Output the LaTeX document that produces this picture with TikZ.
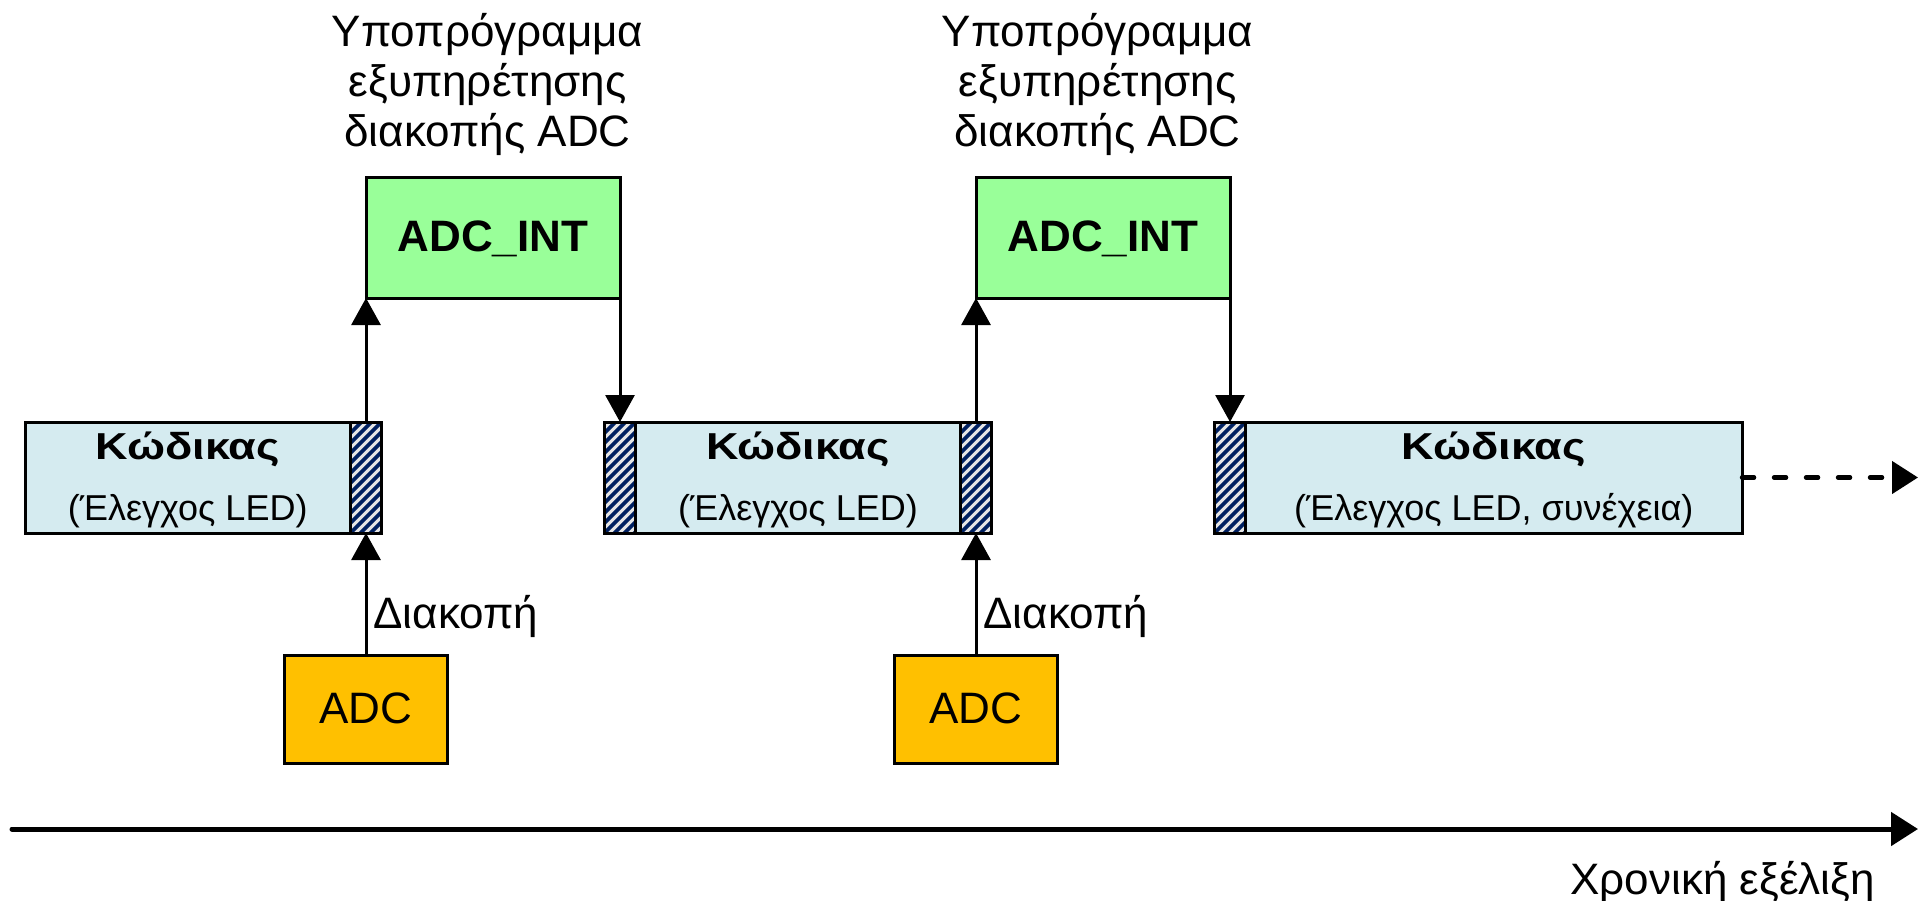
\documentclass[tikz,border=0pt]{standalone}
\usepackage{fontspec}
\setmainfont{Liberation Sans}
\newfontfamily\headfont{Liberation Sans}[FakeStretch=1.2]
\usetikzlibrary{arrows.meta}

\definecolor{codeblue}{HTML}{D5EBF0}
\definecolor{intgreen}{HTML}{99FF99}
\definecolor{adcorange}{HTML}{FFC000}
\definecolor{stripenavy}{HTML}{002060}
\definecolor{stripegray}{HTML}{E6E6E6}

\tikzset{
  box/.style={rectangle, draw=black, line width=3pt, inner sep=0pt, outer sep=0pt},
  codebox/.style={box, fill=codeblue, minimum height=111pt},
  hatchbox/.style={box, fill=stripegray, minimum width=31pt, minimum height=111pt,
    path picture={
      \foreach \k in {-5,...,13}{
        \draw[stripenavy, line width=3.8pt]
          ([yshift=\k*10pt]path picture bounding box.south west) -- ++(45pt,45pt);
      }}},
  intbox/.style={box, fill=intgreen, minimum width=254pt, minimum height=121pt,
    font=\bfseries\fontsize{44}{50}\selectfont, text height=31pt, text depth=3pt},
  adcbox/.style={box, fill=adcorange, minimum width=163pt, minimum height=108pt,
    font=\fontsize{44}{50}\selectfont, text height=31pt, text depth=3pt},
  headtext/.style={inner sep=0pt, anchor=base, font=\headfont\bfseries\fontsize{37.5}{44}\selectfont},
  subtext/.style={inner sep=0pt, anchor=base, font=\fontsize{36}{42}\selectfont},
  plaintext/.style={inner sep=0pt, anchor=base, font=\fontsize{44}{50}\selectfont},
  titletext/.style={inner sep=0pt, align=center, font=\fontsize{44}{50}\selectfont},
  flow/.style={line width=3pt, -{Triangle[length=27pt, width=29pt]}},
  goeson/.style={line width=4.5pt, line cap=round, dash pattern=on 12pt off 20pt,
    -{Triangle[length=26pt, width=32pt]}},
  axis/.style={line width=5pt, line cap=round, -{Triangle[length=27pt, width=33pt]}},
}

\begin{document}
\begin{tikzpicture}[x=1pt, y=-1pt]
  \useasboundingbox (0,0) rectangle (1918,900);

  % first slice of the main program
  \node[codebox, minimum width=325.5pt] (code1) at (187.75,477.5) {};
  \node[hatchbox] (hatch1r) at (366,477.5) {};
  \node[headtext] (code1a) at ([yshift=18pt]code1.center) {Κώδικας};
  \node[subtext] (code1b) at ([yshift=-43pt]code1.center) {(Έλεγχος LED)};

  % second slice
  \node[hatchbox] (hatch2l) at (620,477.5) {};
  \node[codebox, minimum width=325pt] (code2) at (798,477.5) {};
  \node[hatchbox] (hatch2r) at (976,477.5) {};
  \node[headtext] (code2a) at ([yshift=18pt]code2.center) {Κώδικας};
  \node[subtext] (code2b) at ([yshift=-43pt]code2.center) {(Έλεγχος LED)};

  % third slice
  \node[hatchbox] (hatch3l) at (1230,477.5) {};
  \node[codebox, minimum width=496.5pt] (code3) at (1493.75,477.5) {};
  \node[headtext] (code3a) at ([yshift=18pt]code3.center) {Κώδικας};
  \node[subtext] (code3b) at ([yshift=-43pt]code3.center) {(Έλεγχος LED, συνέχεια)};

  % interrupt service routines
  \node[intbox] (int1) at (493,237.5) {ADC\_INT};
  \node[intbox] (int2) at (1103,237.5) {ADC\_INT};
  \node[titletext] (title1) at (487.5,84) {Υποπρόγραμμα\\εξυπηρέτησης\\διακοπής ADC};
  \node[titletext] (title2) at (1097.5,84) {Υποπρόγραμμα\\εξυπηρέτησης\\διακοπής ADC};

  % interrupt sources
  \node[adcbox] (adc1) at (366,709) {ADC};
  \node[adcbox] (adc2) at (976,709) {ADC};
  \node[plaintext] (irq1) at ([xshift=89.8pt, yshift=26.7pt]adc1.north) {Διακοπή};
  \node[plaintext] (irq2) at ([xshift=89.8pt, yshift=26.7pt]adc2.north) {Διακοπή};

  % control flow
  \draw[flow] (adc1.north) -- (hatch1r.south);
  \draw[flow] (hatch1r.north) -- (int1.south west);
  \draw[flow] (int1.south east) -- (hatch2l.north);
  \draw[flow] (adc2.north) -- (hatch2r.south);
  \draw[flow] (hatch2r.north) -- (int2.south west);
  \draw[flow] (int2.south east) -- (hatch3l.north);

  \coordinate (cont) at (1918,477.5);
  \draw[goeson] (code3.east) -- (cont);

  % time axis
  \coordinate (t0) at (12,829);
  \coordinate (t1) at (1918,829);
  \draw[axis] (t0) -- (t1);
  \node[plaintext] (timelabel) at (1722.5,894.3) {Χρονική εξέλιξη};
\end{tikzpicture}
\end{document}
